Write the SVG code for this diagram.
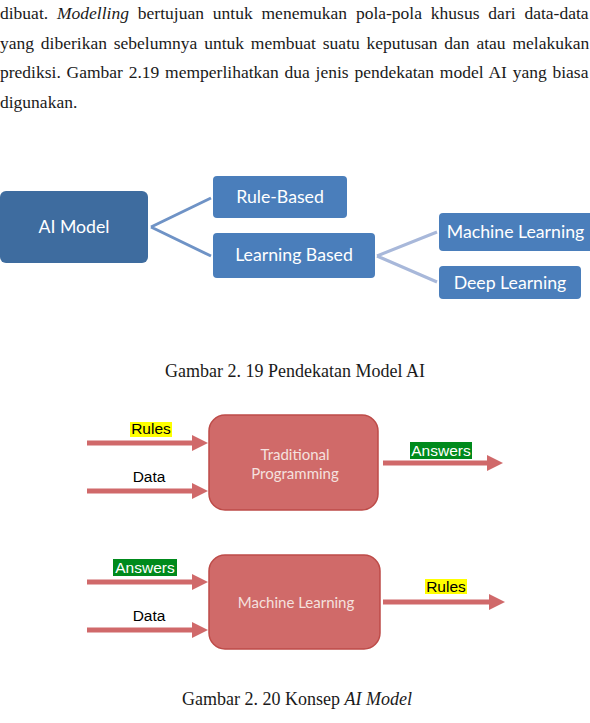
<svg xmlns="http://www.w3.org/2000/svg" width="590" height="723" viewBox="0 0 590 723">
<style>
.para{font-family:"Liberation Serif","Times New Roman",serif;font-size:17.5px;fill:#1a1a1a}
.cap{font-family:"Liberation Serif","Times New Roman",serif;font-size:18px;fill:#1a1a1a}
.bx{fill:#4A7EBB}
.bxd{fill:#3E6C9F}
.bt{font-family:Lato,"Open Sans",sans-serif;font-size:17.7px;fill:#ffffff;text-anchor:middle}
.rb{fill:#D06A69;stroke:#BD4B48;stroke-width:1.5}
.rt{font-family:Lato,"Open Sans",sans-serif;font-size:15px;fill:#F5E1DF;text-anchor:middle}
.lbl{font-family:"Liberation Sans",Arial,sans-serif;font-size:15.5px;text-anchor:middle}
.c1{stroke:#6F93C6;stroke-width:3;fill:none}
.c2{stroke:#A8B8DA;stroke-width:3;fill:none}
.ar{fill:#D0696A}
</style>
<rect width="590" height="723" fill="#ffffff"/>
<g id="paragraph">
<text class="para" x="0" y="19" word-spacing="4.5">dibuat. <tspan font-style="italic">Modelling</tspan> bertujuan untuk menemukan pola-pola khusus dari data-data</text>
<text class="para" x="0" y="48.5" word-spacing="2.45">yang diberikan sebelumnya untuk membuat suatu keputusan dan atau melakukan</text>
<text class="para" x="0" y="78" word-spacing="1.4">prediksi. Gambar 2.19 memperlihatkan dua jenis pendekatan model AI yang biasa</text>
<text class="para" x="0" y="107.5">digunakan.</text>
</g>
<g id="connectors">
<path class="c1" d="M151,227 L211,198 M151,227 L211,256"/>
<path class="c2" d="M377,256 L437,232 M377,256 L437,282"/>
<path class="ar" d="M87,440.5 H192 V435 L208,443 L192,451 V445.5 H87 Z"/>
<path class="ar" d="M87,488.5 H192 V483 L208,491 L192,499 V493.5 H87 Z"/>
<path class="ar" d="M383,460.5 H487 V455 L503,463 L487,471 V465.5 H383 Z"/>
<path class="ar" d="M87,579.5 H192 V574 L208,582 L192,590 V584.5 H87 Z"/>
<path class="ar" d="M87,627.5 H192 V622 L208,630 L192,638 V632.5 H87 Z"/>
<path class="ar" d="M383,599.5 H489 V594 L505,602 L489,610 V604.5 H383 Z"/>
</g>
<g id="ai-model">
<rect class="bxd" x="0" y="191" width="148" height="72" rx="6"/>
<text class="bt" x="74" y="233">AI Model</text>
</g>
<g id="rule-based">
<rect class="bx" x="213" y="176" width="134" height="42" rx="4"/>
<text class="bt" x="280" y="203">Rule-Based</text>
</g>
<g id="learning-based">
<rect class="bx" x="213" y="233" width="162" height="45" rx="4"/>
<text class="bt" x="294" y="261">Learning Based</text>
</g>
<g id="machine-learning">
<rect class="bx" x="439" y="213" width="155" height="38" rx="4"/>
<text class="bt" x="515.5" y="238">Machine Learning</text>
</g>
<g id="deep-learning">
<rect class="bx" x="439" y="266" width="142" height="33" rx="4"/>
<text class="bt" x="510" y="289">Deep Learning</text>
</g>
<g id="caption-1">
<text class="cap" x="165" y="377">Gambar 2. 19 Pendekatan Model AI</text>
</g>
<g id="traditional-programming">
<rect class="rb" x="209" y="415" width="169" height="95" rx="16"/>
<text class="rt" x="295" y="460">Traditional</text>
<text class="rt" x="295" y="479">Programming</text>
</g>
<g id="label-rules-1">
<rect x="130" y="422" width="42" height="15" fill="#FFFF00"/>
<text class="lbl" x="151" y="434" fill="#000000">Rules</text>
</g>
<g id="label-data-1">
<text class="lbl" x="149" y="482" fill="#000000">Data</text>
</g>
<g id="label-answers-1">
<rect x="410" y="442" width="62" height="17" fill="#008A1C"/>
<text class="lbl" x="441" y="456" fill="#ffffff">Answers</text>
</g>
<g id="machine-learning-2">
<rect class="rb" x="209" y="555" width="171" height="94" rx="16"/>
<text class="rt" x="296" y="608">Machine Learning</text>
</g>
<g id="label-answers-2">
<rect x="113" y="559" width="64" height="17" fill="#008A1C"/>
<text class="lbl" x="145" y="573" fill="#ffffff">Answers</text>
</g>
<g id="label-data-2">
<text class="lbl" x="149" y="621" fill="#000000">Data</text>
</g>
<g id="label-rules-2">
<rect x="425" y="579" width="42" height="15" fill="#FFFF00"/>
<text class="lbl" x="446" y="592" fill="#000000">Rules</text>
</g>
<g id="caption-2">
<text class="cap" x="182" y="705">Gambar 2. 20 Konsep <tspan font-style="italic">AI Model</tspan></text>
</g>
</svg>
